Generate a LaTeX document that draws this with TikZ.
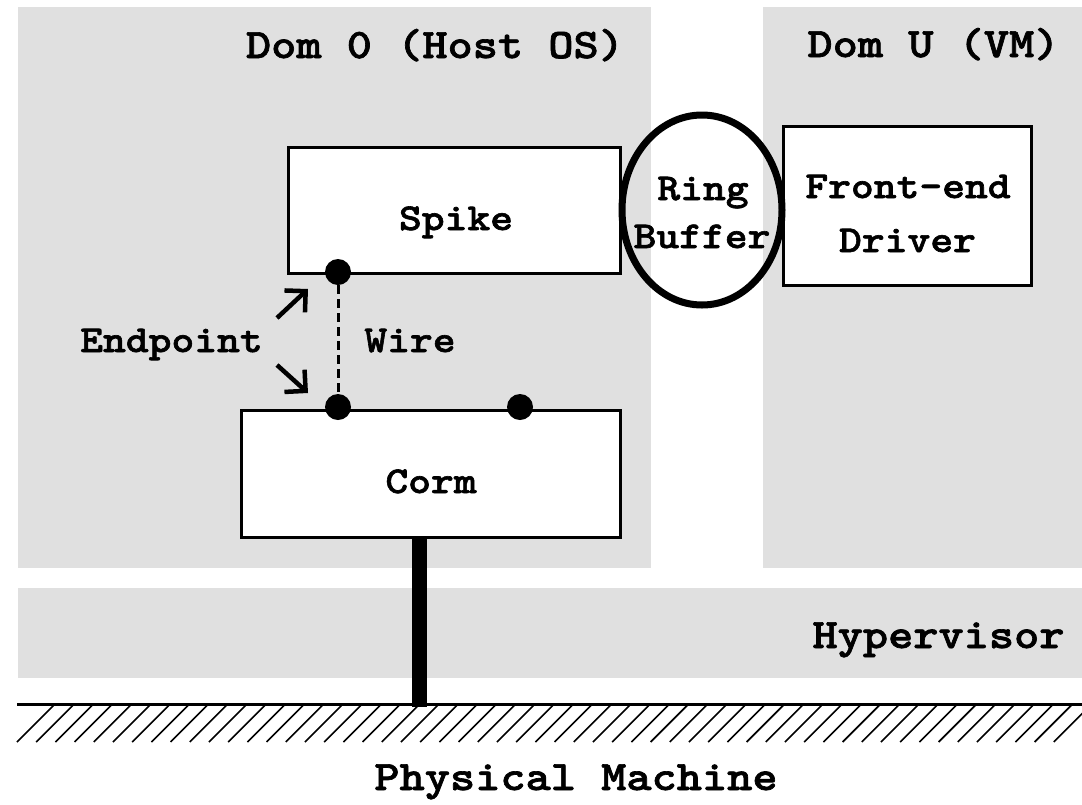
\documentclass[tikz,border=0pt]{standalone}
\usepackage{fontspec}
\usetikzlibrary{shapes.geometric,arrows.meta}
\newfontfamily\courfont{lmmonolt10-bold}[Extension=.otf, FakeStretch=1.143, FakeBold=1.6]
\definecolor{regiongray}{RGB}{224,224,224}
\tikzset{
  region/.style={fill=regiongray, draw=none},
  boxnode/.style={draw=black, fill=white, line width=3pt, inner sep=0pt, rectangle},
  bigtxt/.style={font=\courfont\fontsize{42}{50}\selectfont, inner sep=0pt, anchor=base},
  boxtxt/.style={font=\courfont\fontsize{38}{46}\selectfont, inner sep=0pt, anchor=base},
  epdot/.style={circle, fill=black, draw=none, minimum size=26pt, inner sep=0pt},
  ptrarrow/.style={line width=4.5pt, -{Straight Barb[length=15pt,width=30pt]}},
}
\begin{document}
\begin{tikzpicture}[x=1pt,y=-1pt]
\useasboundingbox (0,0) rectangle (1082,804);
% regions
\fill[region] (18,7) rectangle (651,568);
\fill[region] (763,7) rectangle (1082,568);
\fill[region] (18,588) rectangle (1082,678);
\node[bigtxt] (dom0) at (435,58) {Dom 0 (Host OS)};
\node[bigtxt] (domu) at (933.5,57) {Dom U (VM)};
\node[bigtxt] (hyp) at (938.5,648) {Hypervisor};
% boxes
\node[boxnode, minimum width=332pt, minimum height=126pt] (spike) at (454.5,210.5) {};
\node[boxtxt] (spiketxt) at (456,230) {Spike};
\node[boxnode, minimum width=248pt, minimum height=159pt] (fed) at (907.5,206) {};
\node[boxtxt] (fedtxt1) at (908,198) {Front-end};
\node[boxtxt] (fedtxt2) at (907.5,252) {Driver};
\node[boxnode, minimum width=379pt, minimum height=127pt] (corm) at (431,474) {};
\node[boxtxt] (cormtxt) at (431,493) {Corm};
% ring buffer
\node[ellipse, draw=black, line width=7pt, minimum width=160pt, minimum height=190pt, inner sep=0pt] (ring) at (702,210) {};
\node[boxtxt] (ringtxt1) at (703,200) {Ring};
\node[boxtxt] (ringtxt2) at (702,248) {Buffer};
% endpoints and wire
\node[epdot] (ep1) at (338,272) {};
\node[epdot] (ep2) at (338,407) {};
\node[epdot] (ep3) at (520,407) {};
\draw[line width=3pt, dash pattern=on 9pt off 5pt] (ep1) -- (ep2);
\node[boxtxt] (eptxt) at (171.5,352) {Endpoint};
\node[boxtxt] (wiretxt) at (410,352) {Wire};
\coordinate (a1s) at (277,318);
\coordinate (a1e) at (308,289);
\coordinate (a2s) at (277,365);
\coordinate (a2e) at (308,393);
\draw[ptrarrow] (a1s) -- (a1e);
\draw[ptrarrow] (a2s) -- (a2e);
% ground
\coordinate (gl) at (17,704);
\coordinate (gr) at (1082,704);
\coordinate (barbot) at (419.5,707);
\draw[line width=3pt] (gl) -- (gr);
\begin{scope}
\clip (0,700) rectangle (1082,750);
\foreach \k in {0,...,54} {
  \draw[line width=1.6pt] ({17+19.2*\k},742) -- ({54+19.2*\k},705);
}
\end{scope}
\draw[line width=15pt] (corm.south -| barbot) -- (barbot);
\node[bigtxt] (pm) at (576,790) {Physical Machine};
\end{tikzpicture}
\end{document}
